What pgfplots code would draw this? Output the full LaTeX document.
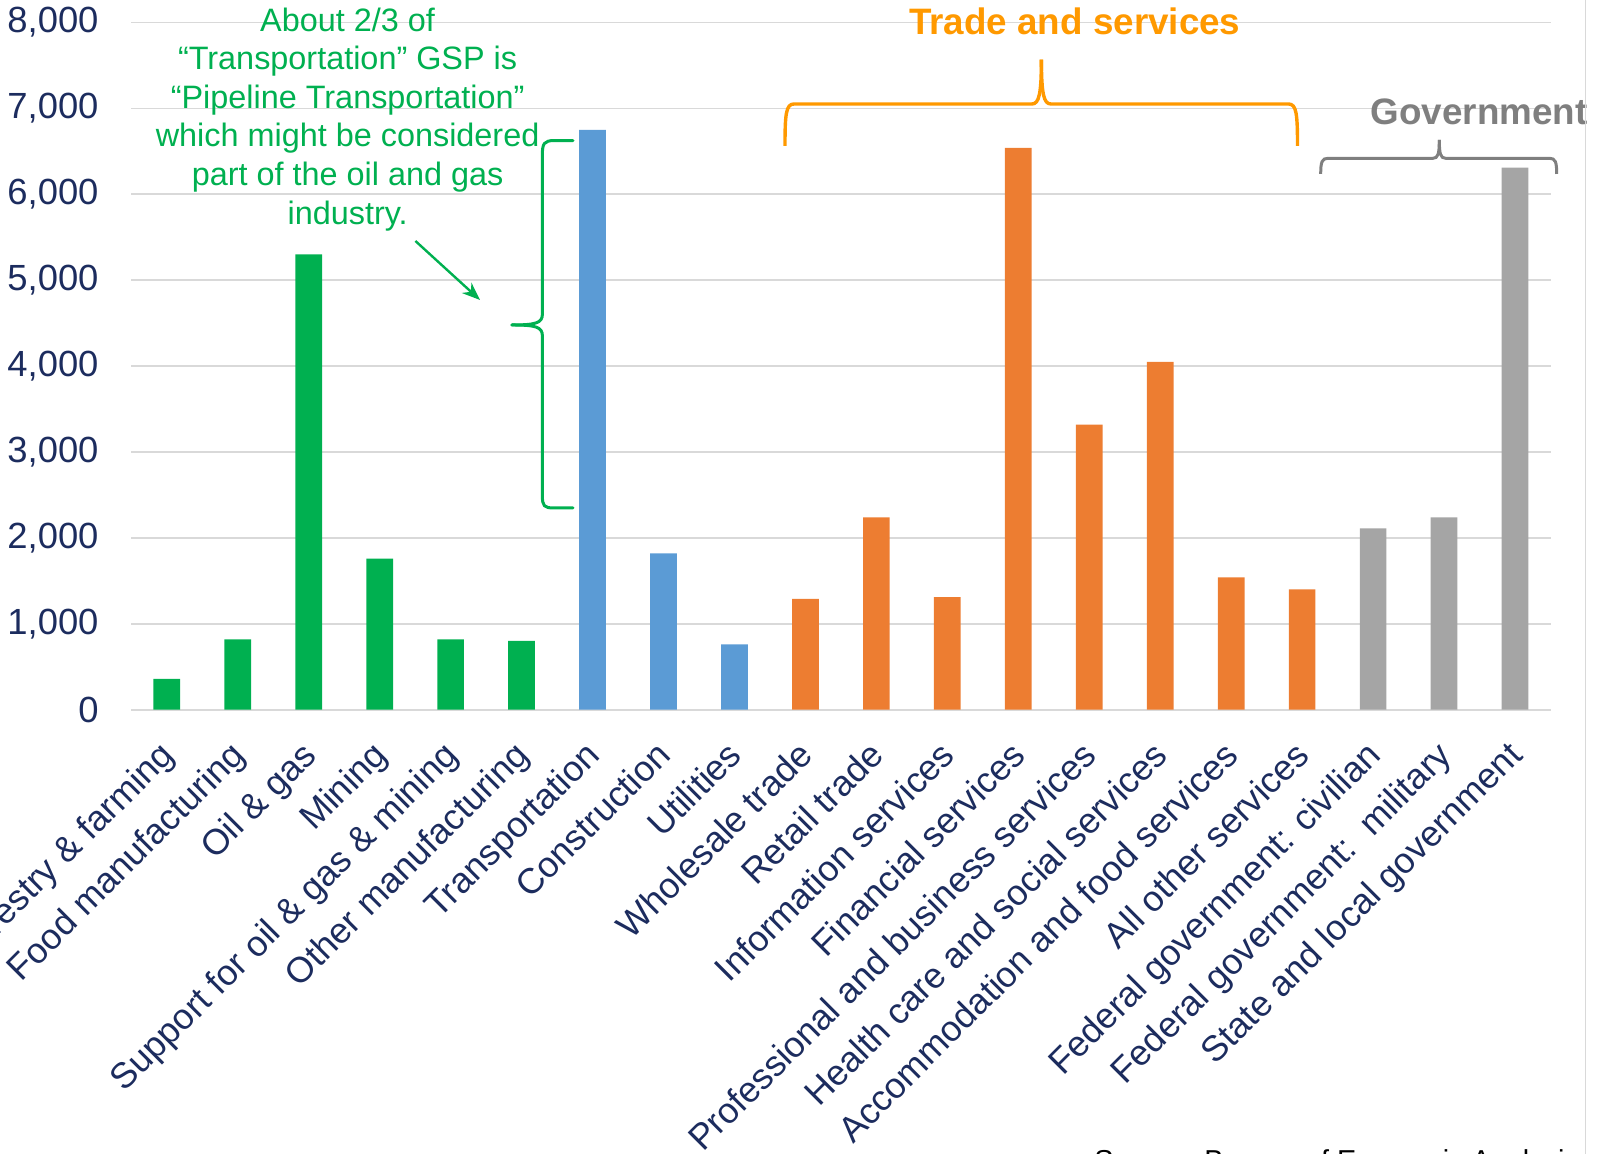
\documentclass[border=0pt]{standalone}
\usepackage{fontspec}
\setmainfont{Liberation Sans}
\usepackage{pgfplots}
\pgfplotsset{compat=1.18}
\usetikzlibrary{arrows.meta}

\definecolor{cgreen}{HTML}{00B050}
\definecolor{cblue}{HTML}{5B9BD5}
\definecolor{corange}{HTML}{ED7D31}
\definecolor{cgray}{HTML}{A5A5A5}
\definecolor{cnavy}{HTML}{1C2C5E}
\definecolor{cgrid}{HTML}{D9D9D9}
\definecolor{cbrace}{HTML}{FF9900}
\definecolor{cgovt}{HTML}{7F7F7F}

\begin{document}
\begin{tikzpicture}
\useasboundingbox (0pt,0pt) rectangle (804pt,577pt);
\begin{scope}[overlay]
\clip (0pt,0pt) rectangle (804pt,577pt);

\begin{axis}[
  at={(65.65pt,222.15pt)}, anchor=south west,
  scale only axis, width=709.6pt, height=343.55pt,
  xmin=-0.5, xmax=19.5, ymin=0, ymax=8000,
  ytick={0,1000,...,8000},
  xtick={0,...,19},
  xticklabels={Forestry \& farming, Food manufacturing, Oil \& gas, Mining,
    Support for oil \& gas \& mining, Other manufacturing, Transportation,
    Construction, Utilities, Wholesale trade, Retail trade,
    Information services, Financial services,
    Professional and business services, Health care and social services,
    Accommodation and food services, All other services,
    Federal government: civilian, Federal government:~~military,
    State and local government},
  ymajorgrids,
  grid style={draw=cgrid, line width=0.9pt},
  axis line style={draw=none},
  major tick length=0pt, tick style={draw=none},
  scaled y ticks=false,
  /pgf/number format/1000 sep={,},
  /pgf/number format/assume math mode=true,
  y tick label style={font=\fontsize{18.2}{22}\selectfont, text=cnavy,
    anchor=east, inner sep=0pt, xshift=-16.2pt},
  x tick label style={font=\fontsize{17.9}{22}\selectfont, text=cnavy,
    inner sep=0pt, anchor=north east, xshift=-4.6pt, yshift=-14.4pt, rotate=45},
]
\addplot[ybar, bar shift=0pt, bar width=13.35pt, fill=cgreen, draw=none]
  coordinates {(0,360) (1,820) (2,5300) (3,1760) (4,820) (5,800)};
\addplot[ybar, bar shift=0pt, bar width=13.35pt, fill=cblue, draw=none]
  coordinates {(6,6750) (7,1820) (8,760)};
\addplot[ybar, bar shift=0pt, bar width=13.35pt, fill=corange, draw=none]
  coordinates {(9,1290) (10,2240) (11,1310) (12,6540) (13,3320) (14,4050) (15,1540) (16,1400)};
\addplot[ybar, bar shift=0pt, bar width=13.35pt, fill=cgray, draw=none]
  coordinates {(17,2110) (18,2240) (19,6310)};
\end{axis}

% green note
\begin{scope}[font=\fontsize{16.2}{19.3}\selectfont, text=cgreen]
\node[anchor=base] at (173.8pt,561pt) {About 2/3 of};
\node[anchor=base] at (173.8pt,542pt) {“Transportation” GSP is};
\node[anchor=base] at (173.8pt,522.5pt) {“Pipeline Transportation”};
\node[anchor=base] at (173.8pt,503.5pt) {which might be considered};
\node[anchor=base] at (173.8pt,484pt) {part of the oil and gas};
\node[anchor=base] at (173.8pt,464.5pt) {industry.};
\end{scope}
\draw[cgreen, line width=1.2pt, -{Stealth[length=9pt,width=7pt]}] (207.7pt,456.5pt) -- (240pt,427pt);

% green brace
\draw[cgreen, line width=1.5pt, line cap=round]
  (286.5pt,506.7pt) -- (277pt,506.7pt) .. controls (272pt,506.7pt) and (271.2pt,505pt) .. (271.2pt,500pt)
  -- (271.2pt,420pt) .. controls (271.2pt,415.5pt) and (268pt,414.5pt) .. (255.9pt,414.5pt);
\draw[cgreen, line width=1.5pt, line cap=round]
  (255.9pt,414.5pt) .. controls (268pt,414.5pt) and (271.2pt,413.5pt) .. (271.2pt,409pt)
  -- (271.2pt,329pt) .. controls (271.2pt,324pt) and (272pt,323pt) .. (277pt,323pt) -- (286.5pt,323pt);

% trade and services brace
\draw[cbrace, line width=1.7pt]
  (392.5pt,504pt) .. controls (392.5pt,520pt) and (393pt,525pt) .. (397pt,525pt)
  -- (516pt,525pt) .. controls (519.5pt,525pt) and (520.7pt,530pt) .. (520.7pt,547.2pt);
\draw[cbrace, line width=1.7pt]
  (648.75pt,504pt) .. controls (648.75pt,520pt) and (648.25pt,525pt) .. (644.25pt,525pt)
  -- (525.4pt,525pt) .. controls (521.9pt,525pt) and (520.7pt,530pt) .. (520.7pt,547.2pt);
\node[anchor=base, text=cbrace, font=\bfseries\fontsize{18.4}{22}\selectfont] at (537.4pt,559.5pt) {Trade and services};

% government brace
\draw[cgovt, line width=1.5pt]
  (660.35pt,490pt) .. controls (660.35pt,496pt) and (661pt,497.85pt) .. (664pt,497.85pt)
  -- (716.5pt,497.85pt) .. controls (719pt,497.85pt) and (719.65pt,500pt) .. (719.65pt,507pt);
\draw[cgovt, line width=1.5pt]
  (778.35pt,490pt) .. controls (778.35pt,496pt) and (777.7pt,497.85pt) .. (774.7pt,497.85pt)
  -- (722.8pt,497.85pt) .. controls (720.3pt,497.85pt) and (719.65pt,500pt) .. (719.65pt,507pt);
\node[anchor=base, text=cgovt, font=\bfseries\fontsize{18.4}{22}\selectfont] at (739.6pt,514.5pt) {Government};

% frame line and source
\draw[cgrid, line width=0.5pt] (792.5pt,0pt) -- (792.5pt,577pt);
\node[anchor=base west, inner sep=0pt, font=\fontsize{14.4}{17}\selectfont] at (547pt,-8.3pt) {Source: Bureau of Economic Analysis};
\end{scope}
\end{tikzpicture}
\end{document}
